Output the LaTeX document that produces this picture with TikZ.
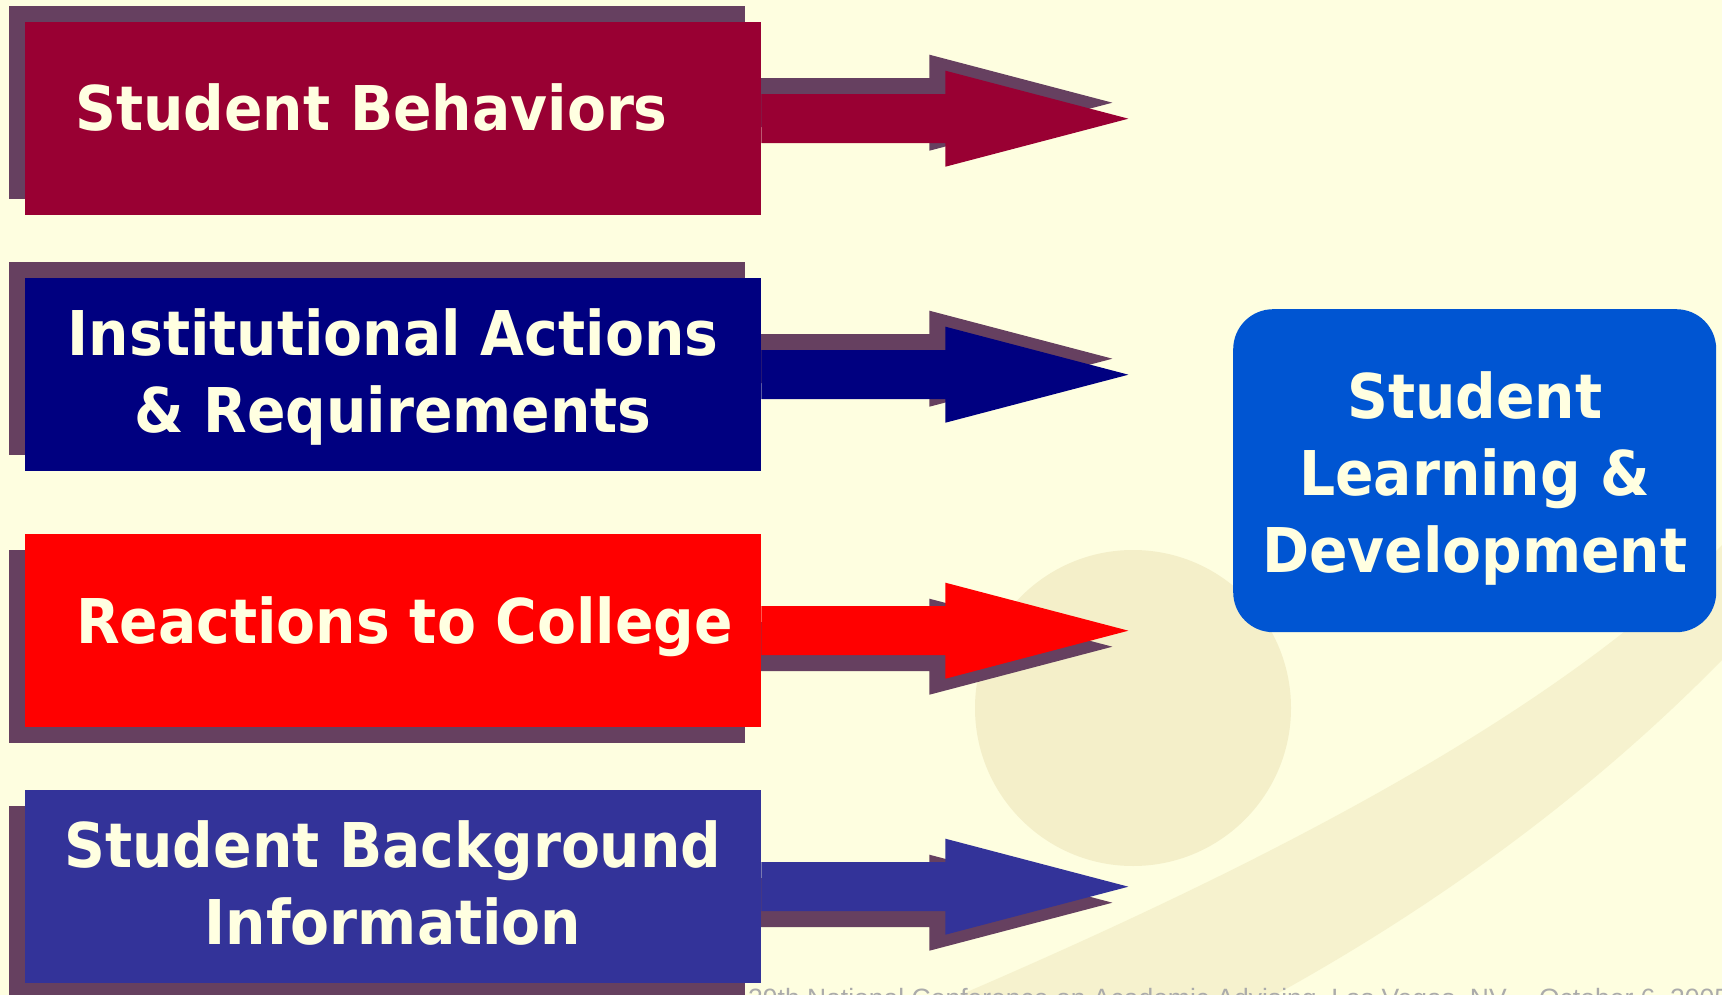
\documentclass[tikz,border=0pt]{standalone}
\usepackage{fontspec}
\usetikzlibrary{shadows}
\newfontfamily\boxfont[FakeStretch=0.92]{DejaVu Sans}
\newfontfamily\footfont{Liberation Sans}
\definecolor{bgc}{HTML}{FEFEE0}
\definecolor{wm}{HTML}{F4EFC9}
\definecolor{wmb}{HTML}{F6F2CE}
\definecolor{shadowc}{HTML}{664060}
\definecolor{cA}{HTML}{990033}
\definecolor{cB}{HTML}{000080}
\definecolor{cC}{HTML}{FF0000}
\definecolor{cD}{HTML}{333399}
\definecolor{cE}{HTML}{0055D2}
\definecolor{txt}{HTML}{FFFFE1}
\definecolor{foot}{HTML}{ABABAB}
\pgfdeclarelayer{bglayer}
\pgfdeclarelayer{arrowlayer}
\pgfsetlayers{bglayer,arrowlayer,main}
\begin{document}
\begin{tikzpicture}[x=1pt,y=-1pt,
  box/.style={rectangle, inner sep=0pt, minimum width=736pt, minimum height=193pt, anchor=north west},
  shup/.style={general shadow={fill=shadowc, shadow xshift=-16pt, shadow yshift=16pt}},
  shdown/.style={general shadow={fill=shadowc, shadow xshift=-16pt, shadow yshift=-16pt}},
  lbl/.style={text=txt, font=\boxfont\bfseries\fontsize{61.7pt}{77pt}\selectfont, inner sep=0pt, anchor=base},
  lblw/.style={lbl, anchor=base west},
  goalbox/.style={rectangle, rounded corners=40pt, inner sep=0pt, minimum width=483pt, minimum height=323pt, anchor=north west},
]
\useasboundingbox (0,0) rectangle (1722,995);
\begin{pgfonlayer}{bglayer}
  \fill[bgc] (0,0) rectangle (1722,995);
  \fill[wmb] (960,995) .. controls (1250,870) and (1550,720) .. (1722,545)
    -- (1722,660) .. controls (1580,805) and (1420,915) .. (1275,995) -- cycle;
  \fill[wm] (1133,708) circle[radius=158pt];
  \node[font=\footfont\fontsize{26.5pt}{30pt}\selectfont, text=foot, anchor=base west, inner sep=0pt] (footer) at (748,1007)
    {29th National Conference on Academic Advising, Las Vegas, NV -- October 6, 2005};
\end{pgfonlayer}

% boxes
\node[box, fill=cA, shup] (b1) at (25,22) {};
\node[box, fill=cB, shup] (b2) at (25,278) {};
\node[box, fill=cC, shdown] (b3) at (25,534) {};
\node[box, fill=cD, shdown] (b4) at (25,790) {};

% labels
\node[lblw] (t1) at (75,131) {Student Behaviors};
\node[lbl] (t2a) at (393,355) {Institutional Actions};
\node[lbl] (t2b) at (393,432) {\& Requirements};
\node[lblw] (t3) at (76,643) {Reactions to College};
\node[lbl] (t4a) at (393,867) {Student Background};
\node[lbl] (t4b) at (393,944) {Information};

% goal
\node[goalbox, fill=cE] (goal) at (1233,309) {};
\node[lbl] (g1) at (goal.center |- 0,418) {Student};
\node[lbl] (g2) at (goal.center |- 0,495) {Learning \&};
\node[lbl] (g3) at (goal.center |- 0,572) {Development};

% block arrows
\begin{pgfonlayer}{arrowlayer}
  \fill[cA, shup] ([shift={(0,-24.5)}]b1.east) -- ++(184,0) -- ++(0,-23.5) -- ++(183,48) -- ++(-183,48) -- ++(0,-23.5) -- ++(-184,0) -- cycle;
  \fill[cB, shup] ([shift={(0,-24.5)}]b2.east) -- ++(184,0) -- ++(0,-23.5) -- ++(183,48) -- ++(-183,48) -- ++(0,-23.5) -- ++(-184,0) -- cycle;
  \fill[cC, shdown] ([shift={(0,-24.5)}]b3.east) -- ++(184,0) -- ++(0,-23.5) -- ++(183,48) -- ++(-183,48) -- ++(0,-23.5) -- ++(-184,0) -- cycle;
  \fill[cD, shdown] ([shift={(0,-24.5)}]b4.east) -- ++(184,0) -- ++(0,-23.5) -- ++(183,48) -- ++(-183,48) -- ++(0,-23.5) -- ++(-184,0) -- cycle;
\end{pgfonlayer}
\end{tikzpicture}
\end{document}
